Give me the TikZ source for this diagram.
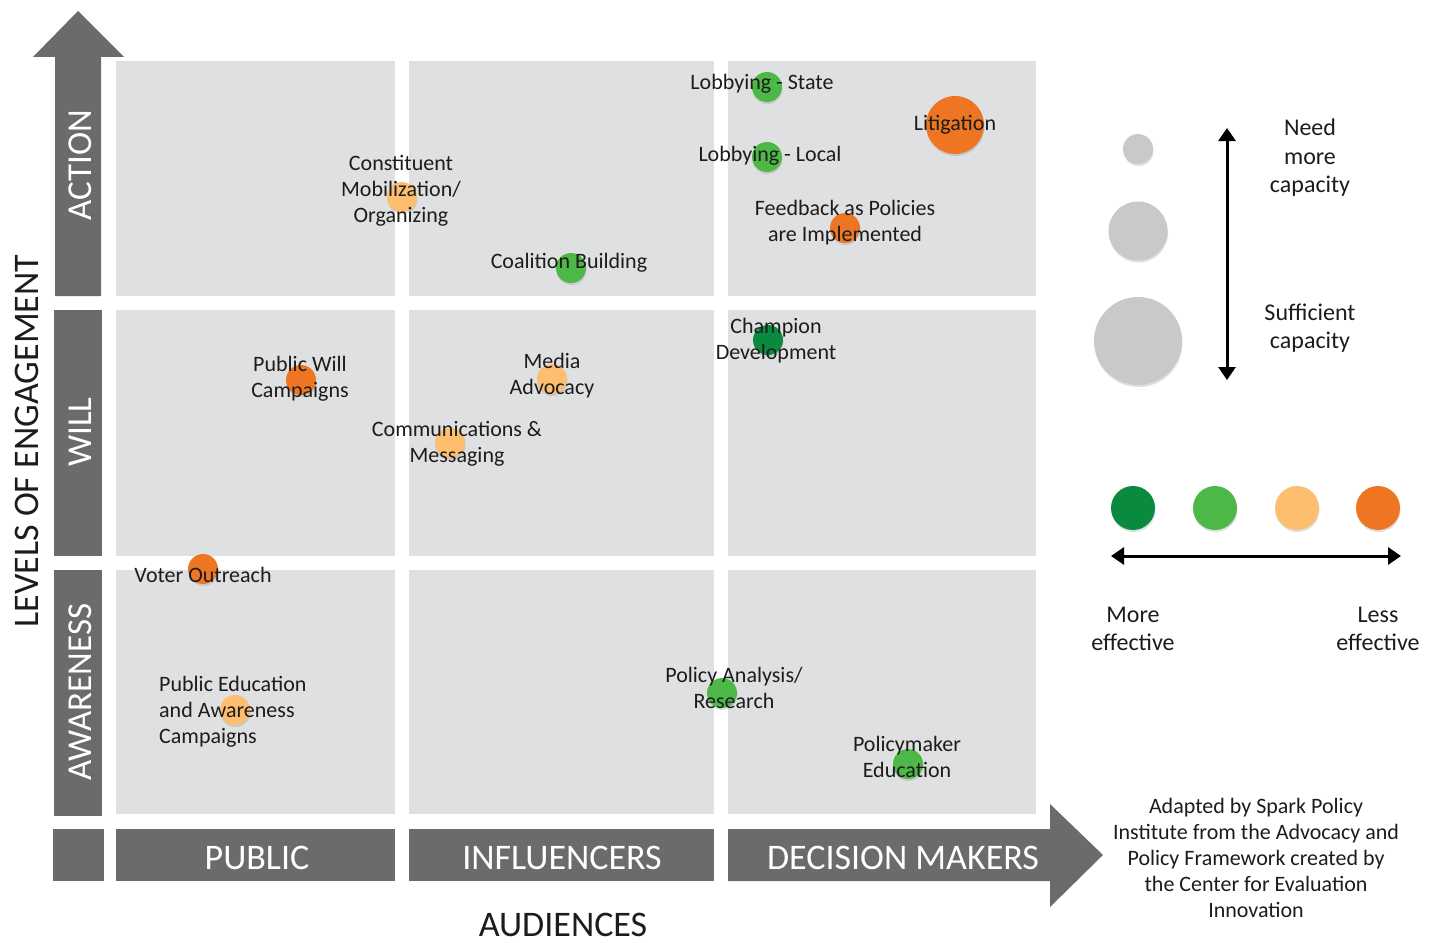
\documentclass[tikz,border=0pt]{standalone}
\usepackage{fontspec}
\setmainfont{Carlito}
\usetikzlibrary{shadows,arrows.meta}
\definecolor{cellgray}{HTML}{DFE0E1}
\definecolor{bargray}{HTML}{6B6B6B}
\definecolor{dkgreen}{HTML}{0A8A3F}
\definecolor{ltgreen}{HTML}{4DB848}
\definecolor{peach}{HTML}{FDBF6F}
\definecolor{orangeA}{HTML}{EE7622}
\definecolor{capgray}{HTML}{C9C9C9}
\definecolor{ink}{HTML}{1C1C1C}
\begin{document}
\begin{tikzpicture}[x=1pt,y=-1pt,
  cell/.style={fill=cellgray},
  bar/.style={fill=bargray},
  dot/.style={circle, draw=none, inner sep=0pt, minimum size=30pt,
    drop shadow={shadow xshift=0.5pt, shadow yshift=-2pt, opacity=0.25}},
  lbl/.style={align=center, inner sep=0pt, text=ink, font=\fontsize{22}{26}\selectfont},
  barlbl/.style={text=white, inner sep=0pt, font=\fontsize{36}{40}\selectfont},
  leglbl/.style={align=center, inner sep=0pt, text=ink, font=\fontsize{24}{28.5}\selectfont},
  legarrow/.style={line width=3pt, {Triangle[width=17pt,length=13pt]}-{Triangle[width=17pt,length=13pt]}},
]
\useasboundingbox (0,0) rectangle (1439,942);

% grid of cells: rows action / will / awareness, columns public / influencers / decision makers
\fill[cell] (116,61) rectangle (395,296);
\fill[cell] (409,61) rectangle (714,296);
\fill[cell] (728,61) rectangle (1036,296);
\fill[cell] (116,310) rectangle (395,556);
\fill[cell] (409,310) rectangle (714,556);
\fill[cell] (728,310) rectangle (1036,556);
\fill[cell] (116,570) rectangle (395,814);
\fill[cell] (409,570) rectangle (714,814);
\fill[cell] (728,570) rectangle (1036,814);

% vertical axis: engagement levels
\fill[bar] (55,296) -- (55,57) -- (33,57) -- (78,11) -- (124,57) -- (101,57) -- (101,296) -- cycle;
\fill[bar] (54,310) rectangle (102,556);
\fill[bar] (54,570) rectangle (102,816);
\fill[bar] (53,829) rectangle (104,881);
\node[barlbl, rotate=90, font=\fontsize{35}{40}\selectfont] (action) at (80,165) {ACTION};
\node[barlbl, rotate=90, font=\fontsize{35}{40}\selectfont] (will) at (80,432) {WILL};
\node[barlbl, rotate=90, font=\fontsize{35}{40}\selectfont] (aware) at (80,692) {AWARENESS};
\node[rotate=90, inner sep=0pt, text=ink, font=\fontsize{36}{40}\selectfont] (levels) at (27,441) {LEVELS OF ENGAGEMENT};

% horizontal axis: audiences
\fill[bar] (116,829) rectangle (395,881);
\fill[bar] (409,829) rectangle (714,881);
\fill[bar] (728,829) -- (1050,829) -- (1050,804) -- (1103,855) -- (1050,907) -- (1050,881) -- (728,881) -- cycle;
\node[barlbl] (public) at (257,858) {PUBLIC};
\node[barlbl] (influ) at (562,858) {INFLUENCERS};
\node[barlbl] (decis) at (903,858) {DECISION MAKERS};
\node[inner sep=0pt, text=ink, font=\fontsize{36}{40}\selectfont] (aud) at (563,925) {AUDIENCES};

% strategy dots
\node[dot, fill=ltgreen] (d-lobS) at (767,87) {};
\node[dot, fill=ltgreen] (d-lobL) at (767,157) {};
\node[dot, fill=orangeA, minimum size=58pt] (d-lit) at (955,125) {};
\node[dot, fill=orangeA] (d-feed) at (845,228) {};
\node[dot, fill=peach] (d-const) at (402,197) {};
\node[dot, fill=ltgreen] (d-coal) at (571,268) {};
\node[dot, fill=dkgreen] (d-champ) at (768,340) {};
\node[dot, fill=orangeA] (d-pwill) at (301,380) {};
\node[dot, fill=peach] (d-media) at (552,379) {};
\node[dot, fill=peach] (d-comm) at (450,443) {};
\node[dot, fill=orangeA] (d-voter) at (203,569) {};
\node[dot, fill=peach] (d-pubed) at (235,710) {};
\node[dot, fill=ltgreen] (d-polan) at (722,693) {};
\node[dot, fill=ltgreen] (d-polmk) at (908,764) {};

% strategy labels
\node[lbl] (t-lobS) at (762,84) {Lobbying - State};
\node[lbl] (t-lobL) at (770,156) {Lobbying - Local};
\node[lbl] (t-lit) at (955,125) {Litigation};
\node[lbl] (t-feed) at (845,223) {Feedback as Policies\\are Implemented};
\node[lbl] (t-const) at (401,191) {Constituent\\Mobilization/\\Organizing};
\node[lbl] (t-coal) at (569,263) {Coalition Building};
\node[lbl] (t-champ) at (776,341) {Champion\\Development};
\node[lbl] (t-pwill) at (300,379) {Public Will\\Campaigns};
\node[lbl] (t-media) at (552,376) {Media\\Advocacy};
\node[lbl] (t-comm) at (457,444) {Communications \&\\Messaging};
\node[lbl] (t-voter) at (203,575) {Voter Outreach};
\node[lbl, align=left, anchor=west] (t-pubed) at (159,712) {Public Education\\and Awareness\\Campaigns};
\node[lbl] (t-polan) at (734,688) {Policy Analysis/\\Research};
\node[lbl] (t-polmk) at (907,757) {Policymaker\\Education};

% capacity legend
\node[dot, fill=capgray] (c-small) at (1138,149) {};
\node[dot, fill=capgray, minimum size=59pt] (c-mid) at (1138,231) {};
\node[dot, fill=capgray, minimum size=88pt] (c-big) at (1138,341) {};
\coordinate (cap-top) at (1227,128);
\coordinate (cap-bot) at (1227,380);
\draw[legarrow] (cap-top) -- (cap-bot);
\node[leglbl] (need) at (1310,158) {Need\\more\\capacity};
\node[leglbl] (suff) at (1310,328) {Sufficient\\capacity};

% effectiveness legend
\node[dot, fill=dkgreen, minimum size=44pt] (e1) at (1133,508) {};
\node[dot, fill=ltgreen, minimum size=44pt] (e2) at (1215,508) {};
\node[dot, fill=peach, minimum size=44pt] (e3) at (1297,508) {};
\node[dot, fill=orangeA, minimum size=44pt] (e4) at (1378,508) {};
\coordinate (eff-left) at (1111,556);
\coordinate (eff-right) at (1401,556);
\draw[legarrow] (eff-left) -- (eff-right);
\node[leglbl] (more) at (1133,629) {More\\effective};
\node[leglbl] (less) at (1378,629) {Less\\effective};

% source note
\node[lbl] (credit) at (1256,858) {Adapted by Spark Policy\\Institute from the Advocacy and\\Policy Framework created by\\the Center for Evaluation\\Innovation};
\end{tikzpicture}
\end{document}
